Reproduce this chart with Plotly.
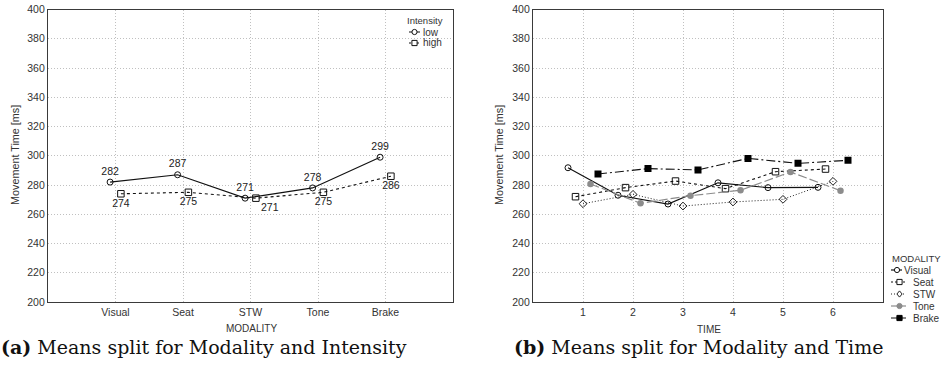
import plotly.graph_objects as go

# ---------------- data ----------------
modalities = ["Visual", "Seat", "STW", "Tone", "Brake"]
intensity_low = [282, 287, 271, 278, 299]
intensity_high = [274, 275, 271, 275, 286]

times = [1, 2, 3, 4, 5, 6]
time_visual = [291.8, 273.0, 267.0, 281.5, 278.2, 278.4]
time_seat = [272.0, 278.2, 282.7, 277.5, 289.1, 290.9]
time_stw = [267.2, 273.6, 265.6, 268.4, 270.2, 282.5]
time_tone = [280.7, 267.5, 272.7, 276.4, 288.9, 276.1]
time_brake = [287.5, 291.2, 290.3, 298.2, 294.8, 296.9]

y_ticks = [200, 220, 240, 260, 280, 300, 320, 340, 360, 380, 400]

# ---------------- layout helpers ----------------
W, H = 942, 384
def fx(x):
    return x / W
def fy(y):
    return 1 - y / H

TXT = "#333333"
GRAY = "#8c8c8c"
GRID = "#c0c0c0"
FONT = "Liberation Sans, Arial, sans-serif"

fig = go.Figure()

# ---------------- left panel ----------------
idx = list(range(len(modalities)))
low_pos = ["top center"] * len(modalities)
high_pos = ["bottom right" if m == "STW" else "bottom center" for m in modalities]

fig.add_trace(go.Scatter(
    x=[i - 0.08 for i in idx], y=intensity_low, mode="lines+markers+text",
    text=[str(v) for v in intensity_low], textposition=low_pos,
    textfont=dict(size=10.5, color="#222222", family=FONT),
    line=dict(color="#111111", width=1.2),
    marker=dict(symbol="circle-open", size=6, color="#111111", line=dict(width=1)),
    xaxis="x", yaxis="y", showlegend=False, name="low"))
fig.add_trace(go.Scatter(
    x=[i + 0.08 for i in idx], y=intensity_high, mode="lines+markers+text",
    text=[str(v) for v in intensity_high], textposition=high_pos,
    textfont=dict(size=10.5, color="#222222", family=FONT),
    line=dict(color="#111111", width=1.1, dash="3px,3px"),
    marker=dict(symbol="square-open", size=6.5, color="#111111", line=dict(width=1)),
    xaxis="x", yaxis="y", showlegend=False, name="high"))

# ---------------- right panel ----------------
series = [
    ("Visual", time_visual, -0.30, dict(color="#111111", width=1.2),
     dict(symbol="circle-open", size=6, color="#111111", line=dict(width=1))),
    ("Seat", time_seat, -0.15, dict(color="#111111", width=1.1, dash="3px,3px"),
     dict(symbol="square-open", size=6.5, color="#111111", line=dict(width=1))),
    ("STW", time_stw, 0.0, dict(color="#222222", width=1, dash="1px,2px"),
     dict(symbol="diamond-open", size=6, color="#222222", line=dict(width=1))),
    ("Tone", time_tone, 0.15, dict(color=GRAY, width=1.2, dash="9px,3px"),
     dict(symbol="circle", size=6.5, color=GRAY)),
    ("Brake", time_brake, 0.30, dict(color="#111111", width=1.1, dash="9px,3px,2px,3px"),
     dict(symbol="square", size=7, color="#000000")),
]
for name, vals, off, ln, mk in series:
    fig.add_trace(go.Scatter(
        x=[t + off for t in times], y=vals, mode="lines+markers",
        line=ln, marker=mk, xaxis="x2", yaxis="y2", showlegend=False, name=name))

# ---------------- axes ----------------
ydom = [fy(302), fy(9.5)]
common_y = dict(range=[200, 400], tickvals=y_ticks, ticks="", showgrid=True,
                gridcolor=GRID, griddash="1px,2px", gridwidth=1, zeroline=False,
                showline=True, linecolor="#3a3a3a", linewidth=1.3, mirror=True,
                tickfont=dict(size=10.5, color=TXT, family=FONT), automargin=False)
common_x = dict(ticks="", showgrid=True, gridcolor=GRID, griddash="1px,2px", gridwidth=1,
                zeroline=False, showline=True, linecolor="#3a3a3a", linewidth=1.3,
                mirror=True, tickfont=dict(size=10.5, color=TXT, family=FONT),
                automargin=False)

fig.update_layout(
    width=W, height=H, margin=dict(l=0, r=0, t=0, b=0),
    paper_bgcolor="white", plot_bgcolor="white",
    xaxis=dict(domain=[fx(48), fx(453)], range=[-1, 5], tickvals=idx,
               ticktext=modalities, anchor="y", **common_x),
    yaxis=dict(domain=ydom, anchor="x", **common_y),
    xaxis2=dict(domain=[fx(533), fx(883)], range=[0, 7], tickvals=times,
                anchor="y2", **common_x),
    yaxis2=dict(domain=ydom, anchor="x2", **common_y),
)

ann = []
shapes = []
def text(x, y, s, size=10, xanchor="center", angle=0, color=TXT, family=FONT):
    ann.append(dict(x=fx(x), y=fy(y), xref="paper", yref="paper", text=s,
                    showarrow=False, xanchor=xanchor, yanchor="middle",
                    textangle=angle, font=dict(size=size, color=color, family=family)))

# axis titles
text(15, 155, "Movement Time [ms]", size=10.8, angle=-90)
text(499, 155, "Movement Time [ms]", size=10.8, angle=-90)
text(251, 328, "MODALITY", size=10)
text(709, 329, "TIME", size=10)

# captions
text(204, 347, "<b>(a)</b> Means split for Modality and Intensity", size=19,
     family="DejaVu Serif, serif", color="#111111")
text(698, 347, "<b>(b)</b> Means split for Modality and Time", size=19,
     family="DejaVu Serif, serif", color="#111111")

# legend helper
def legend_entry(x0, x1, mx, y, label, tx, ln, mk):
    shapes.append(dict(type="line", xref="paper", yref="paper",
                       x0=fx(x0), x1=fx(x1), y0=fy(y), y1=fy(y),
                       line=dict(color=ln.get("color"), width=ln.get("width", 1),
                                 dash=ln.get("dash", "solid"))))
    r = 2.6
    col = mk["color"]
    sym = mk["symbol"]
    filled = not sym.endswith("open")
    fill = col if filled else "white"
    if sym.startswith("circle"):
        shapes.append(dict(type="circle", xref="paper", yref="paper",
                           x0=fx(mx - r), x1=fx(mx + r), y0=fy(y + r), y1=fy(y - r),
                           fillcolor=fill, line=dict(color=col, width=1)))
    elif sym.startswith("square"):
        shapes.append(dict(type="rect", xref="paper", yref="paper",
                           x0=fx(mx - r), x1=fx(mx + r), y0=fy(y + r), y1=fy(y - r),
                           fillcolor=fill, line=dict(color=col, width=1)))
    else:
        path = "M{},{} L{},{} L{},{} L{},{} Z".format(
            fx(mx), fy(y - r - 0.5), fx(mx + r), fy(y), fx(mx), fy(y + r + 0.5), fx(mx - r), fy(y))
        shapes.append(dict(type="path", xref="paper", yref="paper", path=path,
                           fillcolor=fill, line=dict(color=col, width=1)))
    text(tx, y, label, size=10, xanchor="left")

# left legend
text(425, 20, "Intensity", size=9.5)
legend_entry(409, 420, 414.5, 32, "low", 421,
             dict(color="#111111", width=1),
             dict(symbol="circle-open", color="#111111"))
legend_entry(409, 420, 414.5, 43, "high", 421,
             dict(color="#111111", width=1, dash="2px,2px"),
             dict(symbol="square-open", color="#111111"))

# right legend
text(890, 258, "MODALITY", size=9.5, xanchor="left")
ys = [270, 282, 294, 306, 318]
for (name, vals, off, ln, mk), yy in zip(series, ys):
    if name == "Visual":
        legend_entry(891, 902, 897, yy, name, 902, dict(ln, dash="solid"), mk)
    else:
        d = {"Seat": "2px,2px", "STW": "1px,2px", "Tone": "solid", "Brake": "6px,3px"}[name]
        legend_entry(891, 906, 899.5, yy, name, 911, dict(ln, dash=d), mk)

fig.update_layout(annotations=ann, shapes=shapes)
fig.write_html("out.html")
